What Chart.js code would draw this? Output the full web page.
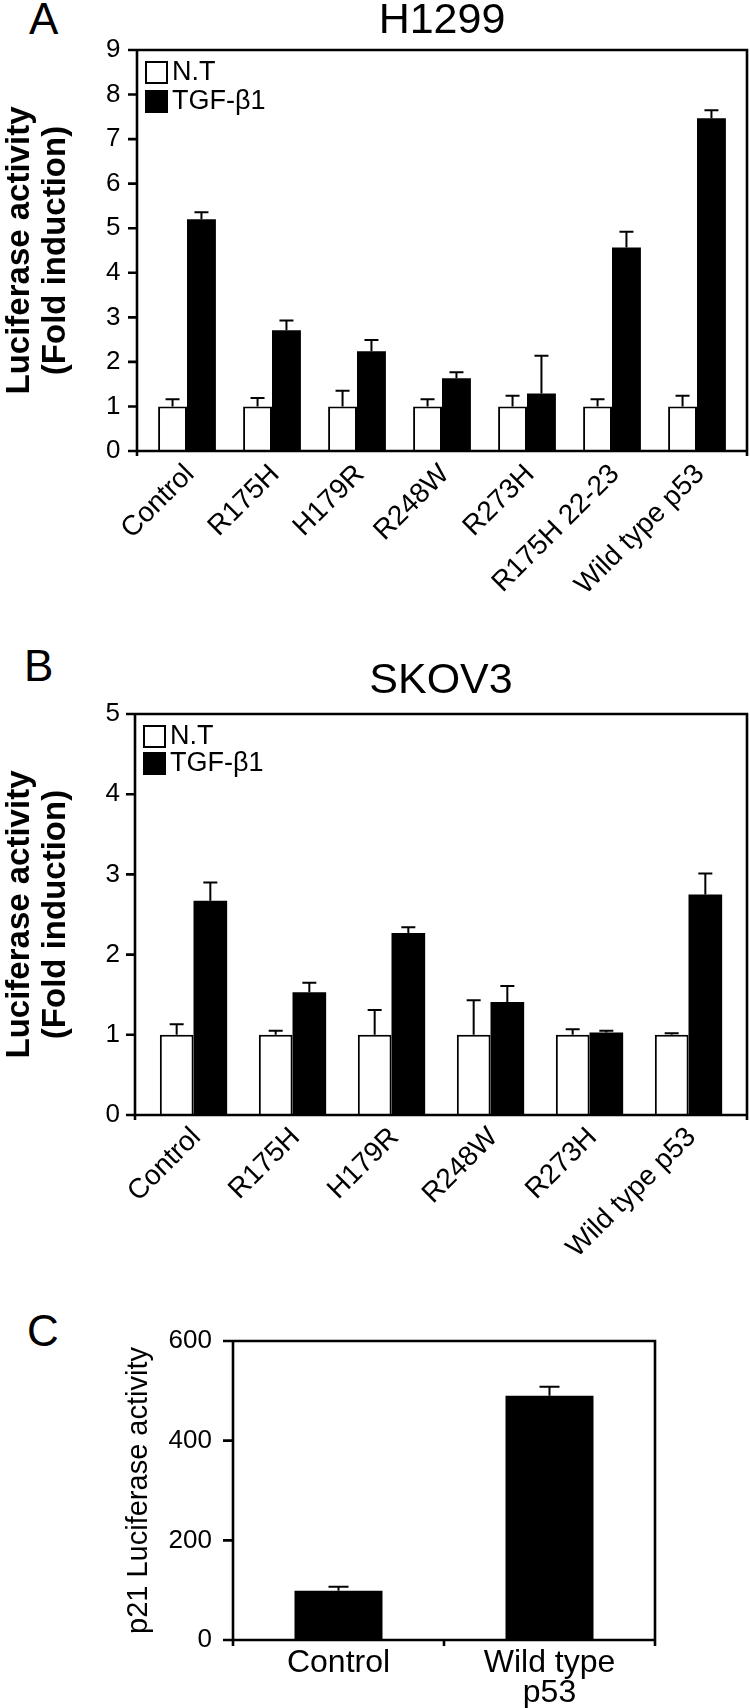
<!DOCTYPE html>
<html lang="en">
<head>
<meta charset="utf-8">
<title>Luciferase activity</title>
<script src="https://cdn.jsdelivr.net/npm/chart.js@4.4.1/dist/chart.umd.min.js"></script>
<style>
  body { margin: 0; background: #fff; }
  #lienzo { position: relative; width: 750px; height: 1708px; overflow: hidden; font-family: 'Liberation Sans', Arial, sans-serif; }
  .panel { position: absolute; left: 0; }
  .letra { position: absolute; font-size: 44px; line-height: 1; color: #000; }
</style>
</head>
<body>
<div id="lienzo">
  <div class="letra" style="left:29px; top:-3px;">A</div>
  <canvas class="panel" id="graficoA" width="750" height="620" style="top:0px"></canvas>
  <div class="letra" style="left:24px; top:644px;">B</div>
  <canvas class="panel" id="graficoB" width="750" height="640" style="top:640px"></canvas>
  <div class="letra" style="left:27px; top:1309px;">C</div>
  <canvas class="panel" id="graficoC" width="750" height="418" style="top:1290px"></canvas>
</div>
<script>
// Datos
//? panel A (H1299)
const categoriasA = ["Control", "R175H", "H179R", "R248W", "R273H", "R175H 22-23", "Wild type p53"];
const ntA = [1, 1, 1, 1, 1, 1, 1];
const ntErrorA = [0.16, 0.19, 0.35, 0.16, 0.24, 0.16, 0.24];
const tgfA = [5.2, 2.71, 2.24, 1.63, 1.29, 4.57, 7.47];
const tgfErrorA = [0.16, 0.22, 0.25, 0.14, 0.85, 0.35, 0.18];
const ticksA = [0, 1, 2, 3, 4, 5, 6, 7, 8, 9];

//? panel B (SKOV3)
const categoriasB = ["Control", "R175H", "H179R", "R248W", "R273H", "Wild type p53"];
const ntB = [1, 1, 1, 1, 1, 1];
const ntErrorB = [0.13, 0.05, 0.31, 0.43, 0.07, 0.02];
const tgfB = [2.67, 1.53, 2.27, 1.41, 1.03, 2.75];
const tgfErrorB = [0.23, 0.12, 0.07, 0.2, 0.02, 0.26];
const ticksB = [0, 1, 2, 3, 4, 5];

//? panel C (p21)
const categoriasC = ["Control", ["Wild type", "p53"]];
const valoresC = [99, 490];
const erroresC = [8, 18];
const ticksC = [0, 200, 400, 600];

//? leyenda
const leyenda = ["N.T", "TGF-\u03b21"];

// Variables
const fuente = "'Liberation Sans', Arial, sans-serif";
const negro = "#000";

// Plugins
//? marco del grafico con sus marcas
const marcoPlugin = {
  id: "marco",
  afterDatasetsDraw(chart, args, opts) {
    const { ctx, chartArea: area, scales: { x, y } } = chart;
    const izq = area.left - opts.margen;
    const der = area.right + opts.margen;
    ctx.save();
    ctx.strokeStyle = negro;
    ctx.lineWidth = 2.6;
    ctx.beginPath();
    ctx.rect(izq, area.top, der - izq, area.bottom - area.top);
    //marcas del eje y
    y.ticks.forEach((t) => {
      const py = y.getPixelForValue(t.value);
      ctx.moveTo(izq - opts.largoY, py);
      ctx.lineTo(izq, py);
    });
    //marcas del eje x
    const marcasX = [izq, der];
    if (opts.divisiones) {
      for (let i = 1; i < x.ticks.length; i++) {
        marcasX.push((x.getPixelForTick(i - 1) + x.getPixelForTick(i)) / 2);
      }
    }
    marcasX.forEach((px) => {
      ctx.moveTo(px, area.bottom);
      ctx.lineTo(px, area.bottom + opts.largoX);
    });
    ctx.stroke();
    ctx.restore();
  },
};

//? barras de error (solo hacia arriba)
const erroresPlugin = {
  id: "errores",
  afterDatasetsDraw(chart, args, opts) {
    const { ctx, scales: { y } } = chart;
    ctx.save();
    ctx.strokeStyle = negro;
    ctx.lineWidth = 2;
    chart.data.datasets.forEach((ds, i) => {
      const meta = chart.getDatasetMeta(i);
      meta.data.forEach((barra, j) => {
        const tope = y.getPixelForValue(ds.data[j] + ds.errores[j]);
        ctx.beginPath();
        ctx.moveTo(barra.x, barra.y);
        ctx.lineTo(barra.x, tope);
        ctx.moveTo(barra.x - opts.ancho / 2, tope);
        ctx.lineTo(barra.x + opts.ancho / 2, tope);
        ctx.stroke();
      });
    });
    ctx.restore();
  },
};

//? leyenda dentro del area
const leyendaPlugin = {
  id: "leyenda",
  afterDatasetsDraw(chart, args, opts) {
    const { ctx, chartArea: area } = chart;
    ctx.save();
    ctx.font = "27px " + fuente;
    ctx.textBaseline = "middle";
    ctx.textAlign = "left";
    chart.data.datasets.forEach((ds, i) => {
      const bx = area.left - opts.margen + opts.x;
      const by = area.top + opts.y + i * opts.paso;
      ctx.fillStyle = ds.backgroundColor;
      ctx.fillRect(bx, by, 23, 23);
      ctx.lineWidth = 2;
      ctx.strokeStyle = negro;
      ctx.strokeRect(bx + 1, by + 1, 21, 21);
      ctx.fillStyle = negro;
      ctx.fillText(ds.label, bx + 27, by + 12);
    });
    ctx.restore();
  },
};

// Funciones
//? crear datasets de los paneles A y B
function crearDatasets(nt, ntError, tgf, tgfError) {
  return [
    {
      label: leyenda[0],
      data: nt,
      errores: ntError,
      backgroundColor: "#fff",
      borderColor: negro,
      borderWidth: 2,
      categoryPercentage: 0.68,
      barPercentage: 1,
    },
    {
      label: leyenda[1],
      data: tgf,
      errores: tgfError,
      backgroundColor: negro,
      borderWidth: 0,
      categoryPercentage: 0.68,
      barPercentage: 1,
    },
  ];
}

//? render grafico de fold induction
function renderPanel(id, titulo, categorias, datasets, ticks, medidas) {
  const ctx = document.getElementById(id);
  new Chart(ctx, {
    type: "bar",
    data: { labels: categorias, datasets: datasets },
    options: {
      responsive: false,
      animation: false,
      layout: { padding: { top: medidas.arriba, right: medidas.derecha, left: 0, bottom: 0 } },
      plugins: {
        legend: { display: false },
        tooltip: { enabled: false },
        title: {
          display: true,
          text: titulo,
          color: negro,
          fullSize: false,
          font: { family: fuente, size: 43, weight: "normal", lineHeight: 1 },
          padding: { top: 0, bottom: medidas.tituloAbajo },
        },
        marco: { margen: medidas.margen, largoY: 9, largoX: 5, divisiones: false },
        errores: { ancho: 14 },
        leyenda: { margen: medidas.margen, x: 8, y: 11, paso: medidas.paso },
      },
      scales: {
        x: {
          offset: true,
          grid: { display: false, drawTicks: false },
          border: { display: false },
          ticks: {
            color: negro,
            font: { family: fuente, size: 28, lineHeight: 1.1 },
            minRotation: 45,
            maxRotation: 45,
            autoSkip: false,
            labelOffset: 3,
            padding: medidas.padX,
          },
          afterFit: (s) => { s.height = medidas.altoX; },
        },
        y: {
          min: ticks[0],
          max: ticks[ticks.length - 1],
          grid: { display: false, drawTicks: false },
          border: { display: false },
          afterBuildTicks: (s) => { s.ticks = ticks.map((v) => ({ value: v })); },
          ticks: { color: negro, font: { family: fuente, size: 26 }, padding: 24 },
          title: {
            display: true,
            text: ["Luciferase activity", "(Fold induction)"],
            color: negro,
            font: { family: fuente, size: 33, weight: "bold", lineHeight: 1.09 },
            padding: { top: 2, bottom: 0 },
          },
          afterFit: (s) => { s.width = medidas.anchoY; },
        },
      },
    },
    plugins: [marcoPlugin, erroresPlugin, leyendaPlugin],
  });
}

//? render grafico p21
function renderPanelC() {
  const ctx = document.getElementById("graficoC");
  new Chart(ctx, {
    type: "bar",
    data: {
      labels: categoriasC,
      datasets: [
        {
          label: "p21",
          data: valoresC,
          errores: erroresC,
          backgroundColor: negro,
          borderWidth: 0,
          categoryPercentage: 1,
          barPercentage: 0.417,
        },
      ],
    },
    options: {
      responsive: false,
      animation: false,
      layout: { padding: { top: 51, right: 95, left: 0, bottom: 0 } },
      plugins: {
        legend: { display: false },
        tooltip: { enabled: false },
        marco: { margen: 0, largoY: 10, largoX: 6, divisiones: true },
        errores: { ancho: 20 },
        leyenda: false,
      },
      scales: {
        x: {
          offset: true,
          grid: { display: false, drawTicks: false },
          border: { display: false },
          ticks: {
            color: negro,
            font: { family: fuente, size: 32, lineHeight: 0.95 },
            maxRotation: 0,
            autoSkip: false,
            padding: 8,
          },
          afterFit: (s) => { s.height = 68; },
        },
        y: {
          min: ticksC[0],
          max: ticksC[ticksC.length - 1],
          grid: { display: false, drawTicks: false },
          border: { display: false },
          afterBuildTicks: (s) => { s.ticks = ticksC.map((v) => ({ value: v })); },
          ticks: { color: negro, font: { family: fuente, size: 26 }, padding: 21 },
          title: {
            display: true,
            text: "p21 Luciferase activity",
            color: negro,
            font: { family: fuente, size: 29, lineHeight: 1.2 },
            padding: { top: 122, bottom: 0 },
          },
          afterFit: (s) => { s.width = 233; },
        },
      },
    },
    plugins: [marcoPlugin, erroresPlugin],
  });
}

renderPanel("graficoA", "H1299", categoriasA, crearDatasets(ntA, ntErrorA, tgfA, tgfErrorA), ticksA, {
  arriba: 0, derecha: 10.5, tituloAbajo: 7, margen: 7.5, paso: 29, padX: 8, altoX: 169, anchoY: 144.5,
});
renderPanel("graficoB", "SKOV3", categoriasB, crearDatasets(ntB, ntErrorB, tgfB, tgfErrorB), ticksB, {
  arriba: 19.5, derecha: 12, tituloAbajo: 11.5, margen: 9, paso: 27, padX: 7, altoX: 165, anchoY: 144,
});
renderPanelC();
</script>
</body>
</html>
